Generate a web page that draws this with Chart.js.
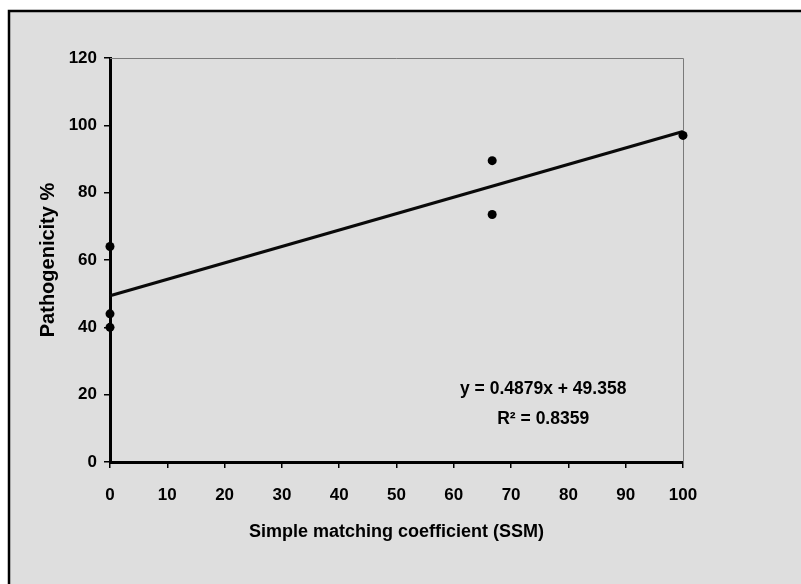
<!DOCTYPE html>
<html>
<head>
<meta charset="utf-8">
<script src="https://cdn.jsdelivr.net/npm/chart.js@4/dist/chart.umd.min.js"></script>
<style>
html, body { margin: 0; padding: 0; background: #fff; }
</style>
</head>
<body>
<canvas id="canvas" width="801" height="584"></canvas>
<script>
// data
var ssm = [0, 0, 0, 66.7, 66.7, 100];
var pathogenicity = [64, 44, 40, 89.5, 73.5, 97];
var trendX = [0, 100];
var trendY = [49.36, 98.15];
var xTicks = [0, 10, 20, 30, 40, 50, 60, 70, 80, 90, 100];
var yTicks = [0, 20, 40, 60, 80, 100, 120];
var equationLines = ['y = 0.4879x + 49.358', 'R\u00b2 = 0.8359'];

(function () {
    var FAMILY = '"Liberation Sans", Arial, sans-serif';
    var TICK_FONT = { family: FAMILY, size: 17, weight: 'bold' };
    var TITLE_FONT = { family: FAMILY, size: 18, weight: 'bold' };

    function toPoints(xs, ys) {
        return xs.map(function (x, i) { return { x: x, y: ys[i] }; });
    }

    // page frame: white corner, black left/top rule, grey panel
    var framePlugin = {
        id: 'frame',
        beforeDraw: function (chart) {
            var ctx = chart.ctx;
            ctx.save();
            ctx.fillStyle = '#fff';
            ctx.fillRect(0, 0, chart.width, chart.height);
            ctx.fillStyle = '#dedede';
            ctx.fillRect(9, 12, chart.width - 9, chart.height - 12);
            ctx.strokeStyle = '#000';
            ctx.lineWidth = 2.5;
            ctx.beginPath();
            ctx.moveTo(9, chart.height);
            ctx.lineTo(9, 11);
            ctx.lineTo(chart.width, 11);
            ctx.stroke();
            ctx.restore();
        },
        beforeDatasetsDraw: function (chart) {
            // thin grey top and right edges of the plot area
            var a = chart.chartArea, ctx = chart.ctx;
            ctx.save();
            ctx.strokeStyle = '#7a7a7a';
            ctx.lineWidth = 1;
            ctx.beginPath();
            ctx.moveTo(a.left, a.top + 0.5);
            ctx.lineTo(a.right + 0.5, a.top + 0.5);
            ctx.lineTo(a.right + 0.5, a.bottom);
            ctx.stroke();
            ctx.restore();
        }
    };

    var equationPlugin = {
        id: 'equation',
        afterDatasetsDraw: function (chart) {
            var ctx = chart.ctx;
            var x = chart.scales.x.getPixelForValue(75.6);
            var y = chart.scales.y.getPixelForValue(21.6);
            ctx.save();
            ctx.font = 'bold 17.5px ' + FAMILY;
            ctx.fillStyle = '#000';
            ctx.textAlign = 'center';
            ctx.textBaseline = 'middle';
            equationLines.forEach(function (line, i) {
                ctx.fillText(line, x, y + i * 30);
            });
            ctx.restore();
        }
    };

    var axisGrid = { display: true, drawOnChartArea: false, drawTicks: true, tickLength: 6, color: '#000', lineWidth: 1.5 };
    var axisBorder = { display: true, color: '#000', width: 3 };

    var ctx = document.getElementById('canvas').getContext('2d');
    var chart = new Chart(ctx, {
        data: {
            datasets: [{
                type: 'scatter',
                data: toPoints(ssm, pathogenicity),
                backgroundColor: '#000',
                borderWidth: 0,
                pointRadius: 4.5,
                clip: false,
                order: 1
            }, {
                type: 'line',
                data: toPoints(trendX, trendY),
                borderColor: '#0a0a0a',
                borderWidth: 3.2,
                pointRadius: 0,
                fill: false,
                clip: false,
                order: 2
            }]
        },
        options: {
            responsive: false,
            devicePixelRatio: 1,
            animation: false,
            layout: { padding: { left: 0, top: 58, right: 118, bottom: 0 } },
            plugins: { legend: { display: false }, tooltip: { enabled: false } },
            scales: {
                x: {
                    type: 'linear',
                    min: 0, max: 100,
                    afterBuildTicks: function (scale) { scale.ticks = xTicks.map(function (v) { return { value: v }; }); },
                    afterFit: function (scale) { scale.height = 122; },
                    grid: axisGrid,
                    border: axisBorder,
                    ticks: { color: '#000', font: TICK_FONT, padding: 17, maxRotation: 0 },
                    title: { display: true, text: 'Simple matching coefficient (SSM)', color: '#000', font: TITLE_FONT, padding: { top: 0, bottom: 41 } }
                },
                y: {
                    type: 'linear',
                    min: 0, max: 120,
                    afterBuildTicks: function (scale) { scale.ticks = yTicks.map(function (v) { return { value: v }; }); },
                    afterFit: function (scale) { scale.width = 110; },
                    grid: axisGrid,
                    border: axisBorder,
                    ticks: { color: '#000', font: TICK_FONT, padding: 7 },
                    title: { display: true, text: 'Pathogenicity %', color: '#000', font: { family: FAMILY, size: 20, weight: 'bold' }, padding: { top: 36, bottom: 0 } }
                }
            }
        },
        plugins: [framePlugin, equationPlugin]
    });
})();
</script>
</body>
</html>
